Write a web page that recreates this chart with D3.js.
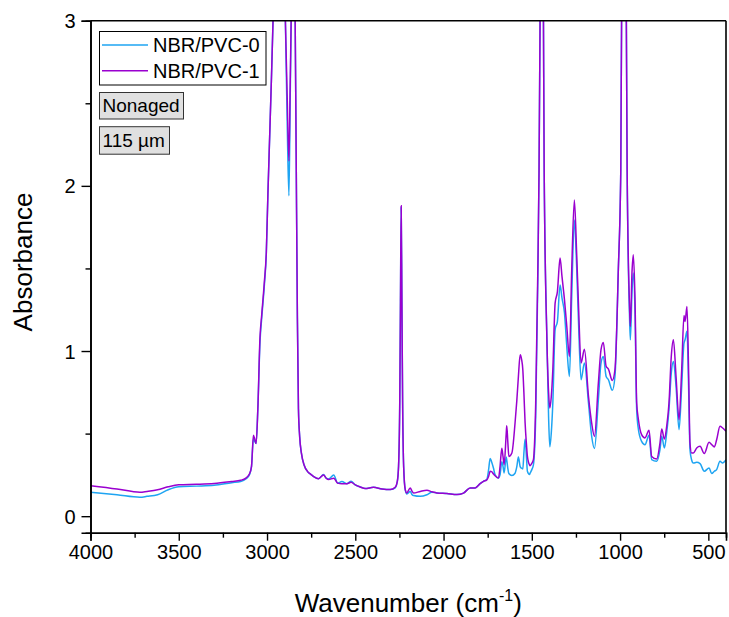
<!DOCTYPE html>
<html><head><meta charset="utf-8">
<script src="https://cdn.jsdelivr.net/npm/d3@7"></script>
<style>body{margin:0;background:#fff}svg{display:block}text{font-family:"Liberation Sans",Arial,sans-serif;fill:#000}</style>
</head><body><svg id="c" width="729" height="617"></svg>
<script>
const wavenumber = [4000,3850,3720,3680,3620,3560,3500,3400,3300,3200,3150,3120,3100,3088,3077,3068,3062,3052,3040,3030,3015,3004,2995,2985,2975,2966,2950,2925,2905,2896,2886,2876,2869,2862,2850,2842,2835,2828,2822,2815,2805,2790,2770,2755,2736,2708,2680,2665,2651,2622,2600,2576,2547,2524,2500,2472,2444,2397,2349,2302,2274,2262,2255,2248,2244,2240,2236,2232,2226,2217,2208,2189,2178,2170,2132,2094,2066,2038,1981,1924,1887,1849,1821,1793,1774,1755,1745,1736,1728,1717,1708,1689,1680,1670,1663,1657,1645,1642,1636,1630,1613,1595,1585,1576,1566,1558,1551,1545,1538,1530,1525,1513,1510,1500,1491,1478,1466,1459,1452,1442,1435,1430,1415,1405,1398,1390,1381,1368,1355,1340,1329,1315,1302,1287,1274,1259,1246,1236,1221,1202,1179,1161,1145,1123,1108,1095,1079,1066,1044,1029,1010,996,990,975,966,960,947,942,932,925,915,906,896,878,859,836,821,793,774,764,749,736,723,710,698,683,666,651,638,632,621,612,604,595,585,566,547,523,496,481,466,453,434,419,400];
const nbrPvc0 = [0.145,0.13,0.115,0.12,0.13,0.16,0.178,0.182,0.187,0.203,0.21,0.225,0.25,0.3,0.47,0.45,0.44,0.65,1.05,1.2,1.4,1.59,1.95,2.3,2.65,3.0,3.6,4.0,3.5,3.0,2.4,1.94,2.5,3.1,4.0,3.2,2.2,1.2,0.65,0.48,0.38,0.31,0.27,0.256,0.24,0.227,0.252,0.23,0.225,0.25,0.2,0.21,0.197,0.212,0.19,0.177,0.167,0.175,0.165,0.161,0.172,0.21,0.3,0.7,1.3,1.87,1.3,0.7,0.3,0.16,0.135,0.15,0.13,0.125,0.12,0.13,0.145,0.141,0.137,0.131,0.14,0.171,0.171,0.197,0.211,0.222,0.28,0.35,0.33,0.29,0.25,0.231,0.25,0.33,0.3,0.262,0.358,0.34,0.29,0.258,0.246,0.26,0.3,0.358,0.3,0.29,0.286,0.38,0.468,0.35,0.272,0.252,0.26,0.282,0.31,0.6,1.43,2.1,3.2,4.0,3.2,2.1,1.09,0.6,0.42,0.5,0.685,1.13,1.18,1.40,1.32,1.23,1.03,0.846,1.33,1.794,1.51,1.19,0.826,0.927,0.685,0.484,0.41,0.705,0.927,0.967,0.846,0.826,0.762,0.846,1.49,2.1,3.3,4.0,3.3,2.1,1.23,1.068,1.37,1.472,1.21,0.645,0.524,0.453,0.433,0.49,0.342,0.332,0.403,0.484,0.413,0.505,0.645,0.866,0.937,0.786,0.524,0.786,1.048,1.068,1.119,0.786,0.403,0.342,0.322,0.326,0.318,0.272,0.292,0.258,0.272,0.282,0.332,0.322,0.342];
const nbrPvc1 = [0.185,0.165,0.145,0.15,0.16,0.178,0.19,0.193,0.198,0.21,0.217,0.23,0.255,0.3,0.49,0.46,0.44,0.65,1.08,1.22,1.42,1.6,1.95,2.3,2.65,3.0,3.6,4.0,3.5,3.0,2.55,2.15,2.6,3.1,4.0,3.2,2.2,1.2,0.65,0.48,0.38,0.31,0.27,0.256,0.24,0.227,0.25,0.23,0.222,0.23,0.2,0.196,0.197,0.205,0.19,0.177,0.167,0.175,0.165,0.161,0.175,0.21,0.3,0.7,1.3,1.88,1.3,0.7,0.3,0.161,0.141,0.171,0.15,0.14,0.15,0.157,0.148,0.141,0.137,0.131,0.14,0.171,0.171,0.197,0.211,0.22,0.24,0.272,0.27,0.255,0.245,0.231,0.3,0.412,0.36,0.312,0.5,0.548,0.45,0.362,0.383,0.564,0.7,0.846,0.978,0.95,0.887,0.75,0.564,0.43,0.362,0.31,0.306,0.32,0.342,0.685,1.49,2.1,3.2,4.0,3.2,2.1,1.09,0.75,0.655,0.72,0.887,1.29,1.36,1.563,1.45,1.31,1.15,0.967,1.49,1.915,1.59,1.29,0.927,1.01,0.725,0.564,0.483,0.806,1.008,1.052,0.907,0.891,0.822,0.887,1.49,2.1,3.3,4.0,3.3,2.1,1.29,1.149,1.49,1.583,1.29,0.685,0.584,0.494,0.474,0.52,0.362,0.346,0.443,0.528,0.467,0.544,0.685,0.967,1.068,0.846,0.584,0.887,1.215,1.179,1.27,0.887,0.443,0.383,0.383,0.413,0.423,0.379,0.447,0.433,0.419,0.463,0.544,0.534,0.514];
const seriesNames = ["NBR/PVC-0","NBR/PVC-1"];
const seriesColors = ["#1ea4f2","#9a00cf"];
const xMajorTicks = [4000,3500,3000,2500,2000,1500,1000,500];
const xMinorTicks = [3750,3250,2750,2250,1750,1250,750];
const yMajorTicks = [0,1,2,3];
const yMinorTicks = [0.5,1.5,2.5];
const labels = ["Nonaged","115 µm"];

const svg = d3.select("#c");
const L=90.5, R=726, T=20.7, B=532.7;
const x = d3.scaleLinear().domain([4000,400]).range([L,R]);
const y = d3.scaleLinear().domain([-0.1,3]).range([B,T]);

svg.append("clipPath").attr("id","clip").append("rect").attr("x",L).attr("y",T).attr("width",R-L).attr("height",B-T);

const series=[nbrPvc0,nbrPvc1];
const line = d3.line().x(d=>x(d[0])).y(d=>y(d[1])).curve(d3.curveMonotoneX);
const g = svg.append("g").attr("clip-path","url(#clip)");
series.forEach((s,i)=>{
  g.append("path").datum(wavenumber.map((w,j)=>[w,s[j]]))
   .attr("d",line).attr("fill","none").attr("stroke",seriesColors[i]).attr("stroke-width",1.5);
});

// axes
const fs=20;
const xa = svg.append("g").attr("transform",`translate(0,${B})`)
  .call(d3.axisBottom(x).tickValues(xMajorTicks).tickSize(8).tickFormat(d3.format("d")));
const xm = svg.append("g").attr("transform",`translate(0,${B})`)
  .call(d3.axisBottom(x).tickValues(xMinorTicks).tickSize(5).tickFormat(""));
const ya = svg.append("g").attr("transform",`translate(${L},0)`)
  .call(d3.axisLeft(y).tickValues(yMajorTicks).tickSize(9).tickFormat(d3.format("d")));
const ym = svg.append("g").attr("transform",`translate(${L},0)`)
  .call(d3.axisLeft(y).tickValues(yMinorTicks).tickSize(5).tickFormat(""));
[xa,xm,ya,ym].forEach(a=>{
  a.select(".domain").attr("stroke","#000").attr("stroke-width",1.6);
  a.selectAll(".tick line").attr("stroke","#000").attr("stroke-width",1.4);
  a.selectAll(".tick text").attr("font-size",fs).attr("font-family","Liberation Sans, Arial, sans-serif").attr("fill","#000");
});
xa.selectAll(".tick text").attr("dy","0.71em").attr("y",12);
ya.selectAll(".tick text").attr("x",-15).attr("dy","0.35em");
// top and right frame
svg.append("line").attr("x1",L).attr("x2",R).attr("y1",T).attr("y2",T).attr("stroke","#000").attr("stroke-width",1.6);
svg.append("line").attr("x1",R).attr("x2",R).attr("y1",T).attr("y2",B).attr("stroke","#000").attr("stroke-width",1.6);

// axis titles
const xt = svg.append("text").attr("x",(L+R)/2).attr("y",612).attr("text-anchor","middle").attr("font-size",26);
xt.append("tspan").text("Wavenumber (cm");
xt.append("tspan").attr("font-size",16).attr("dy",-11).text("-1");
xt.append("tspan").attr("dy",11).text(")");
svg.append("text").attr("transform","translate(32,262) rotate(-90)").attr("text-anchor","middle").attr("font-size",26).text("Absorbance");

// legend
svg.append("rect").attr("x",99.5).attr("y",31.5).attr("width",166.5).attr("height",53.5).attr("fill","#fff").attr("stroke","#000").attr("stroke-width",1);
seriesNames.forEach((n,i)=>{
  const yy = 45 + i*25.7;
  svg.append("line").attr("x1",102).attr("x2",148).attr("y1",yy).attr("y2",yy).attr("stroke",seriesColors[i]).attr("stroke-width",1.5);
  svg.append("text").attr("x",153).attr("y",yy+7).attr("font-size",20).text(n);
});
// labels
const boxes=[[99.5,92.5,84,26.5],[99.5,126.7,70,27.5]];
labels.forEach((t,i)=>{
  const b=boxes[i];
  svg.append("rect").attr("x",b[0]).attr("y",b[1]).attr("width",b[2]).attr("height",b[3]).attr("fill","#e0e0e0").attr("stroke","#333").attr("stroke-width",1);
  svg.append("text").attr("x",b[0]+3).attr("y",b[1]+b[3]/2+6.5).attr("font-size",19).text(t);
});
</script></body></html>
